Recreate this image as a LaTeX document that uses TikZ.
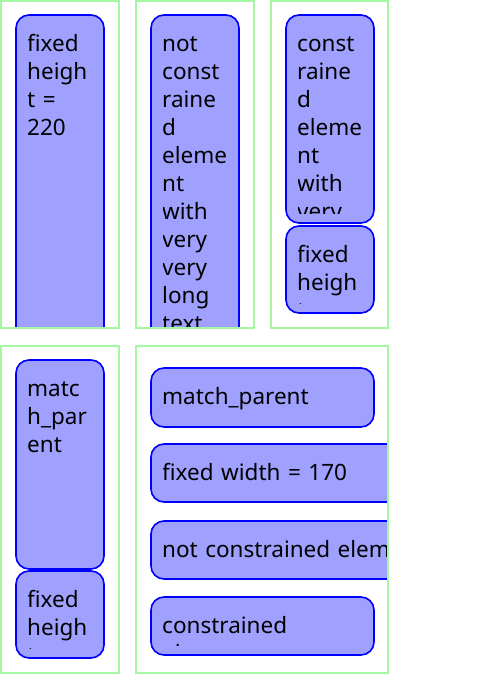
\documentclass[tikz,border=0pt]{standalone}
\usepackage{fontspec}
\setmainfont{Noto Sans}
\definecolor{frame}{HTML}{A4F8A4}
\definecolor{cellfill}{HTML}{A0A0FF}
\definecolor{celledge}{HTML}{0000FF}
\tikzset{
  panel/.style={draw=frame, line width=2pt},
  cell/.style={fill=cellfill, draw=celledge, line width=1.6pt, rounded corners=13pt},
  lbl/.style={anchor=base west, inner sep=0pt, text width=900pt, align=left,
              font=\fontsize{22.5}{28}\selectfont}
}
% rounded cell with its text clipped to the padded inner area
% #1 #2 = top left, #3 #4 = bottom right, #5 = node name, #6 = text
\newcommand\cellbox[6]{%
  \draw[cell] (#1,#2) rectangle (#3,#4);
  \begin{scope}
    \clip (#1+12,#2+12) rectangle (#3-12,#4-10);
    \node[lbl] (#5) at (#1+11,#2+36) {#6};
  \end{scope}}
\begin{document}
\begin{tikzpicture}[x=1pt,y=-1pt]
\useasboundingbox[fill=white] (0,0) rectangle (480,675);

% top row
\begin{scope}
  \clip (1,1) rectangle (119,328);
  \cellbox{16}{15}{104}{360}{fixedh}{fixed\\heigh\\t =\\220}
\end{scope}
\draw[panel] (1,1) rectangle (119,328);

\begin{scope}
  \clip (136,1) rectangle (254,328);
  \cellbox{151}{15}{239}{360}{notcon}{not\\const\\raine\\d\\eleme\\nt\\with\\very\\very\\long\\text}
\end{scope}
\draw[panel] (136,1) rectangle (254,328);

\begin{scope}
  \clip (271,1) rectangle (388,328);
  \cellbox{286}{15}{374}{223}{con}{const\\raine\\d\\eleme\\nt\\with\\very\\very\\long\\text}
  \cellbox{286}{226}{374}{313}{fixedhb}{fixed\\heigh\\t}
\end{scope}
\draw[panel] (271,1) rectangle (388,328);

% bottom row
\begin{scope}
  \clip (1,346) rectangle (119,673);
  \cellbox{16}{360}{104}{569}{match}{matc\\h\_par\\ent}
  \cellbox{16}{571}{104}{658}{fixedhc}{fixed\\heigh\\t}
\end{scope}
\draw[panel] (1,346) rectangle (119,673);

\begin{scope}
  \clip (136,346) rectangle (388,673);
  \cellbox{151}{368}{374}{427}{matchw}{match\_parent}
  \cellbox{151}{444}{430}{502}{fixedw}{fixed width = 170}
  \cellbox{151}{521}{470}{579}{notconw}{not constrained element with very long text}
  \cellbox{151}{597}{374}{655}{conw}{constrained\\element\\with very\\long text}
\end{scope}
\draw[panel] (136,346) rectangle (388,673);
\end{tikzpicture}
\end{document}
